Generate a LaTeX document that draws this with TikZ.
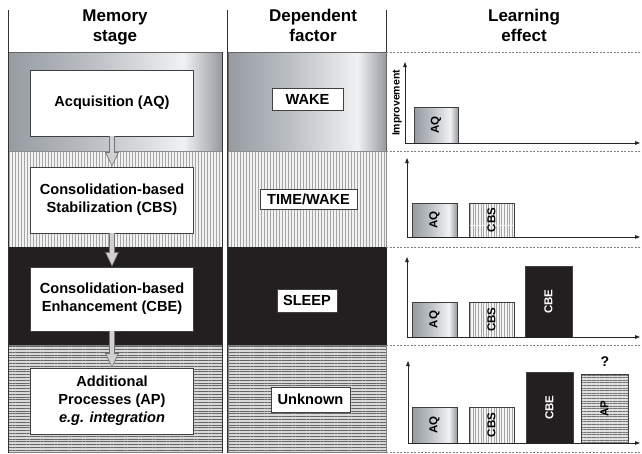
\documentclass[tikz,border=0pt]{standalone}
\usepackage{fontspec}
\setmainfont{Liberation Sans}
\usetikzlibrary{arrows.meta,patterns.meta}
\definecolor{bandblack}{HTML}{231F20}
\definecolor{shA}{RGB}{150,155,162}
\definecolor{shM}{RGB}{188,192,197}
\definecolor{shL}{RGB}{240,241,242}
\definecolor{shR}{RGB}{150,154,160}
\pgfdeclarehorizontalshading{cyl}{100bp}{color(0bp)=(shA); color(25bp)=(shA); color(45bp)=(shM); color(66bp)=(shL); color(75bp)=(shR); color(100bp)=(shR)}
\tikzset{
  hdr/.style={font=\fontsize{17}{20}\selectfont\bfseries, align=center, inner sep=0pt, anchor=north},
  stagebox/.style={draw=black!75, line width=0.8pt, fill=white, align=center, inner sep=0pt,
    font=\fontsize{14.6}{18}\selectfont\bfseries, minimum width=163pt, minimum height=66pt},
  factorbox/.style={draw=black!75, line width=0.8pt, fill=white, inner sep=0pt,
    font=\fontsize{14.6}{17}\selectfont\bfseries},
  bandA/.style={shading=cyl, draw=black!60, line width=0.7pt},
  bandB/.style={preaction={fill=black!5}, pattern={Lines[angle=90,distance=3pt,line width=0.9pt]}, pattern color=black!35, draw=black!45, line width=0.6pt},
  bandC/.style={fill=bandblack, draw=bandblack, line width=0.6pt},
  bandD/.style={preaction={fill=black!15}, pattern={Lines[angle=0,distance=2.8pt,line width=1pt]}, pattern color=black!60, draw=black!50, line width=0.6pt},
  barA/.style={shading=cyl, draw=black!75, line width=0.8pt},
  barB/.style={preaction={fill=black!4}, pattern={Lines[angle=90,distance=2.6pt,line width=0.8pt]}, pattern color=black!35, draw=black!75, line width=0.8pt},
  barC/.style={fill=bandblack, draw=black!75, line width=0.8pt},
  barD/.style={preaction={fill=black!12}, pattern={Lines[angle=0,distance=2.6pt,line width=0.9pt]}, pattern color=black!55, draw=black!75, line width=0.8pt},
  barlbl/.style={rotate=90, inner sep=0pt, font=\fontsize{11.5}{12}\selectfont\bfseries},
  chartaxis/.style={line width=0.8pt, draw=black!85, -{Triangle[length=5pt,width=3.6pt]}},
  sep/.style={draw=black!50, line width=0.5pt, dash pattern=on 2pt off 1.5pt},
  frameline/.style={draw=black!80, line width=0.9pt},
  flowout/.style={line width=6.6pt, draw=black!55, -{Triangle[width=14pt,length=14.5pt,line width=0pt]}},
  flowin/.style={line width=4.6pt, draw=black!18, shorten >=1.5pt, -{Triangle[width=11pt,length=12pt,line width=0pt]}},
}
\begin{document}
\begin{tikzpicture}[x=1pt,y=-1pt]
\useasboundingbox (0,0) rectangle (642,453);
\fill[white] (0,0) rectangle (642,453);

% headers
\node[hdr] (h1) at (115,9.4) {Memory\\stage};
\node[hdr] (h2) at (313,9.4) {Dependent\\factor};
\node[hdr] (h3) at (524,9.4) {Learning\\effect};

% bands: column 1
\path[bandA] (8,52) rectangle (222,151);
\path[bandB] (8,151) rectangle (222,247);
\path[bandC] (8,247) rectangle (222,345);
\path[bandD] (8,345) rectangle (222,452);
% bands: column 2
\path[bandA] (228,52) rectangle (386,151);
\path[bandB] (228,151) rectangle (386,247);
\path[bandC] (228,247) rectangle (386,345);
\path[bandD] (228,345) rectangle (386,452);

% frame lines
\draw[frameline] (8,10) -- (8,453);
\draw[frameline] (227,10) -- (227,453);
\draw[frameline] (222,52) -- (222,453);
\draw[frameline] (386,10) -- (386,52);

% separators in column 3
\draw[sep] (386,52) -- (642,52);
\draw[sep] (386,151) -- (642,151);
\draw[sep] (386,247) -- (642,247);
\draw[sep] (386,345) -- (642,345);
\draw[sep] (386,452) -- (642,452);

% memory stage boxes
\node[stagebox] (aq) at (112,103) {Acquisition (AQ)};
\node[stagebox] (cbs) at (112,200) {Consolidation-based\\Stabilization (CBS)};
\node[stagebox, minimum height=64pt] (cbe) at (112,299) {Consolidation-based\\Enhancement (CBE)};
\node[stagebox] (ap) at (112,401) {Additional\\Processes (AP)\\\textit{e.g. integration}};

% arrows
\draw[flowout] (aq.south) -- (cbs.north);
\draw[flowin] (aq.south) -- (cbs.north);
\draw[flowout] (cbs.south) -- (cbe.north);
\draw[flowin] (cbs.south) -- (cbe.north);
\draw[flowout] (cbe.south) -- (ap.north);
\draw[flowin] (cbe.south) -- (ap.north);

% dependent factor boxes
\node[factorbox, minimum width=71pt, minimum height=22pt] (wake) at (307.5,99) {WAKE};
\node[factorbox, minimum width=97pt, minimum height=20pt] (tw) at (308.5,199.5) {TIME/WAKE};
\node[factorbox, minimum width=60pt, minimum height=23pt] (sleep) at (307,300.5) {SLEEP};
\node[factorbox, minimum width=79pt, minimum height=25pt] (unk) at (310.5,399.5) {Unknown};

% chart 1
\coordinate (o1) at (405,143); \coordinate (y1) at (405,62); \coordinate (x1) at (640,143);
\draw[barA] (414,107) rectangle (458,143);
\node[barlbl] (l1aq) at (436,125) {AQ};
\draw[chartaxis] (o1) -- (y1);
\draw[chartaxis] (o1) -- (x1);
\node[rotate=90, inner sep=0pt, font=\fontsize{10.5}{12}\selectfont\bfseries] (imp) at (397,103) {Improvement};

% chart 2
\coordinate (o2) at (407,237); \coordinate (y2) at (407,158); \coordinate (x2) at (640,237);
\draw[barA] (412,203) rectangle (457,237);
\node[barlbl] (l2aq) at (434.5,220) {AQ};
\draw[barB] (469,203) rectangle (514,237);
\node[barlbl] (l2cbs) at (491.5,220) {CBS};
\draw[chartaxis] (o2) -- (y2);
\draw[chartaxis] (o2) -- (x2);

% chart 3
\coordinate (o3) at (407,337); \coordinate (y3) at (407,257); \coordinate (x3) at (640,337);
\draw[barA] (412,302) rectangle (457,337);
\node[barlbl] (l3aq) at (434.5,319.5) {AQ};
\draw[barB] (469,302) rectangle (514,337);
\node[barlbl] (l3cbs) at (491.5,319.5) {CBS};
\draw[barC] (525,266) rectangle (572,337);
\node[barlbl, text=white] (l3cbe) at (548.5,301.5) {CBE};
\draw[chartaxis] (o3) -- (y3);
\draw[chartaxis] (o3) -- (x3);

% chart 4
\coordinate (o4) at (408,443); \coordinate (y4) at (408,361); \coordinate (x4) at (640,443);
\draw[barA] (412,407) rectangle (457,443);
\node[barlbl] (l4aq) at (434.5,425) {AQ};
\draw[barB] (469,407) rectangle (514,443);
\node[barlbl] (l4cbs) at (491.5,425) {CBS};
\draw[barC] (526,372) rectangle (573,443);
\node[barlbl, text=white] (l4cbe) at (549.5,407.5) {CBE};
\draw[barD] (581,374) rectangle (628,443);
\node[barlbl] (l4ap) at (604.5,408.5) {AP};
\node[inner sep=0pt, font=\fontsize{14}{16}\selectfont\bfseries] (q) at (605,362) {?};
\draw[chartaxis] (o4) -- (y4);
\draw[chartaxis] (o4) -- (x4);
\end{tikzpicture}
\end{document}
